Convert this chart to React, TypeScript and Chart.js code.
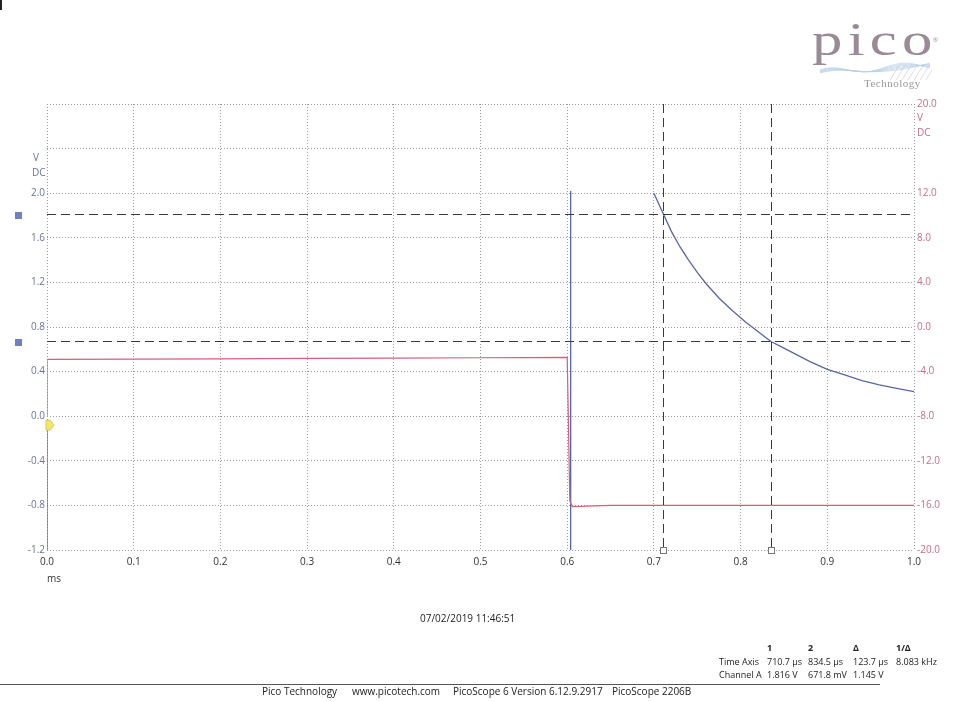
import React, { useEffect, useRef } from "react";
import { Chart, registerables } from "chart.js";

Chart.register(...registerables);

// ---- data read from the scope print ----
const timeRangeMs = [0, 1.0];
const timeStepMs = 0.1;
const chanARange = [-1.2, 2.8];
const chanAStep = 0.4;
const chanBRange = [-20, 20];
const chanBStep = 4;

// Channel A (blue, left axis, V). null = off-scale (over range)
const chanATime = [0, 0, 0.604, 0.604, 0.605, 0.7, 0.71, 0.72, 0.73, 0.74, 0.75, 0.76, 0.775, 0.79, 0.805, 0.82, 0.835, 0.85, 0.865, 0.88, 0.9, 0.92, 0.94, 0.96, 0.98, 1.0];
const chanAVolts = [-0.04, -1.3, -1.3, 2.02, null, 2.0, 1.83, 1.66, 1.52, 1.4, 1.29, 1.19, 1.06, 0.95, 0.85, 0.76, 0.67, 0.61, 0.55, 0.49, 0.42, 0.37, 0.32, 0.28, 0.25, 0.22];

// Channel B (red, right axis, V)
const chanBTime = [0, 0, 0.1, 0.2, 0.3, 0.4, 0.5, 0.6, 0.601, 0.603, 0.606, 0.65, 0.7, 0.8, 0.9, 1.0];
const chanBVolts = [-8.0, -2.9, -2.88, -2.85, -2.82, -2.8, -2.76, -2.72, -6.8, -15.6, -16.1, -16.0, -16.0, -16.0, -16.0, -16.0];

// Cursors
const cursorTimes = [0.7107, 0.8345];
const cursorLevels = [1.816, 0.6718];
const triggerLevel = -0.08;

// Measurement table
const tableHeader = ["", "1", "2", "Δ", "1/Δ"];
const tableTimeRow = ["Time Axis", "710.7 µs", "834.5 µs", "123.7 µs", "8.083 kHz"];
const tableChanRow = ["Channel A", "1.816 V", "671.8 mV", "1.145 V", ""];
const tableCols = [719, 767, 808, 853, 896];

const footerItems = ["Pico Technology", "www.picotech.com", "PicoScope 6 Version 6.12.9.2917", "PicoScope 2206B"];
const footerX = [262, 352, 453, 612];

const FONT = '"Open Sans", "Noto Sans", sans-serif';
const BLUE = "#5866a8";
const RED = "#d4607a";
const LEFT_LABEL = "#6c7598";
const RIGHT_LABEL = "#c2708a";

const fmt1 = (v: number) => {
  const n = Math.abs(v) < 1e-9 ? 0 : v;
  return n.toFixed(1);
};

const overlayPlugin = {
  id: "scopeOverlay",
  afterDatasetsDraw(chart: any) {
    const { ctx, chartArea: a, scales } = chart;
    const xs = scales.x;
    const ys = scales.yA;
    ctx.save();
    ctx.strokeStyle = "#3a3a3a";
    ctx.lineWidth = 1;
    ctx.setLineDash([9, 5]);
    cursorLevels.forEach((v) => {
      const py = Math.round(ys.getPixelForValue(v)) + 0.5;
      ctx.beginPath();
      ctx.moveTo(a.left, py);
      ctx.lineTo(a.right, py);
      ctx.stroke();
    });
    cursorTimes.forEach((t) => {
      const px = Math.round(xs.getPixelForValue(t)) + 0.5;
      ctx.beginPath();
      ctx.moveTo(px, a.top);
      ctx.lineTo(px, a.bottom);
      ctx.stroke();
    });
    ctx.setLineDash([]);
    // cursor handles at the bottom
    cursorTimes.forEach((t) => {
      const px = Math.round(xs.getPixelForValue(t));
      const by = Math.round(a.bottom);
      ctx.fillStyle = "#ffffff";
      ctx.fillRect(px - 3, by - 3, 7, 7);
      ctx.strokeStyle = "#777777";
      ctx.strokeRect(px - 3 + 0.5, by - 3 + 0.5, 6, 6);
    });
    // blue level handles on the left
    cursorLevels.forEach((v) => {
      const py = Math.round(ys.getPixelForValue(v));
      ctx.fillStyle = "#6d80c4";
      ctx.fillRect(15, py - 2, 7, 7);
    });
    // trigger marker
    const ty = ys.getPixelForValue(triggerLevel);
    const tx = a.left;
    ctx.beginPath();
    ctx.moveTo(tx - 1, ty - 5);
    ctx.lineTo(tx + 3, ty - 5);
    ctx.lineTo(tx + 7, ty);
    ctx.lineTo(tx + 3, ty + 5);
    ctx.lineTo(tx - 1, ty + 5);
    ctx.closePath();
    ctx.fillStyle = "#f3e46c";
    ctx.fill();
    ctx.strokeStyle = "#d8c850";
    ctx.stroke();
    ctx.restore();
  },
};

export default function App() {
  const canvasRef = useRef<HTMLCanvasElement | null>(null);

  useEffect(() => {
    const canvas = canvasRef.current;
    if (!canvas) return;
    const chart = new Chart(canvas, {
      type: "line",
      data: {
        datasets: [
          {
            label: "Channel B",
            data: chanBTime.map((t, i) => ({ x: t, y: chanBVolts[i] })),
            yAxisID: "yB",
            borderColor: RED,
            borderWidth: 1.2,
            pointRadius: 0,
            tension: 0,
            spanGaps: false,
          },
          {
            label: "Channel A",
            data: chanATime.map((t, i) => ({ x: t, y: chanAVolts[i] })),
            yAxisID: "yA",
            borderColor: BLUE,
            borderWidth: 1.3,
            pointRadius: 0,
            tension: 0,
            spanGaps: false,
          },
        ],
      },
      options: {
        animation: false,
        responsive: false,
        devicePixelRatio: 1,
        layout: { padding: { left: 0, right: 0, top: 104, bottom: 0 } },
        plugins: { legend: { display: false }, tooltip: { enabled: false } },
        scales: {
          x: {
            type: "linear",
            min: timeRangeMs[0],
            max: timeRangeMs[1],
            ticks: {
              stepSize: timeStepMs,
              color: "#333333",
              font: { family: FONT, size: 10 },
              padding: 6,
              maxRotation: 0,
              callback: (v: any) => fmt1(Number(v)),
            },
            grid: { color: "#9a9a9a", drawTicks: false, lineWidth: 1 },
            border: { display: false, dash: [1, 2] },
            afterFit: (s: any) => {
              s.height = 152;
            },
          },
          yA: {
            type: "linear",
            position: "left",
            min: chanARange[0],
            max: chanARange[1],
            ticks: {
              stepSize: chanAStep,
              color: LEFT_LABEL,
              font: { family: FONT, size: 10 },
              padding: 2,
              callback: (v: any) => (Number(v) > 2.05 ? "" : fmt1(Number(v))),
            },
            grid: { color: "#9a9a9a", drawTicks: false, lineWidth: 1 },
            border: { display: false, dash: [1, 2] },
            afterFit: (s: any) => {
              s.width = 47;
            },
          },
          yB: {
            type: "linear",
            position: "right",
            min: chanBRange[0],
            max: chanBRange[1],
            ticks: {
              stepSize: chanBStep,
              color: RIGHT_LABEL,
              font: { family: FONT, size: 10 },
              padding: 3,
              callback: (v: any) => (Math.abs(Number(v) - 16) < 0.01 ? "" : fmt1(Number(v))),
            },
            grid: { display: false, drawTicks: false },
            border: { display: false },
            afterFit: (s: any) => {
              s.width = 46;
            },
          },
        },
      },
      plugins: [overlayPlugin],
    });
    return () => chart.destroy();
  }, []);

  const txt = (extra: React.CSSProperties): React.CSSProperties => ({
    position: "absolute",
    fontFamily: FONT,
    fontSize: 10,
    lineHeight: "12px",
    whiteSpace: "nowrap",
    ...extra,
  });

  return (
    <div style={{ position: "fixed", left: 0, top: 0, width: 960, height: 702, background: "#ffffff", overflow: "hidden" }}>
      <canvas ref={canvasRef} width={960} height={702} style={{ position: "absolute", left: 0, top: 0, width: 960, height: 702 }} />
      {/* scanner mark */}
      <div style={{ position: "absolute", left: 0, top: 0, width: 2, height: 10, background: "#222" }} />
      {/* unit labels */}
      <div style={txt({ left: 33, top: 151, color: LEFT_LABEL })}>V</div>
      <div style={txt({ left: 32, top: 166, color: LEFT_LABEL })}>DC</div>
      <div style={txt({ left: 917, top: 111, color: RIGHT_LABEL })}>V</div>
      <div style={txt({ left: 917, top: 126, color: RIGHT_LABEL })}>DC</div>
      <div style={txt({ left: 47, top: 572, color: "#333" })}>ms</div>
      {/* timestamp */}
      <div style={txt({ left: 420, top: 612, color: "#222" })}>07/02/2019 11:46:51</div>
      {/* measurement table */}
      {tableHeader.map((h, i) => (
        <div key={"h" + i} style={txt({ left: tableCols[i], top: 642, color: "#222", fontWeight: 700, fontSize: 9 })}>{h}</div>
      ))}
      {tableTimeRow.map((h, i) => (
        <div key={"t" + i} style={txt({ left: tableCols[i], top: 656, color: "#222", fontSize: 9 })}>{h}</div>
      ))}
      {tableChanRow.map((h, i) => (
        <div key={"c" + i} style={txt({ left: tableCols[i], top: 669, color: "#222", fontSize: 9 })}>{h}</div>
      ))}
      {/* footer rule and text */}
      <div style={{ position: "absolute", left: 0, top: 684, width: 880, height: 1, background: "#555" }} />
      {footerItems.map((f, i) => (
        <div key={"f" + i} style={txt({ left: footerX[i], top: 685, color: "#222" })}>{f}</div>
      ))}
      {/* pico logo */}
      <div
        style={{
          position: "absolute",
          left: 812,
          top: 14,
          fontFamily: '"Liberation Serif", "DejaVu Serif", serif',
          fontSize: 46,
          color: "#9a8a98",
          transform: "scaleX(1.32)",
          transformOrigin: "left top",
          letterSpacing: 4,
          lineHeight: "52px",
        }}
      >
        pico
      </div>
      <div style={{ position: "absolute", left: 933, top: 36, fontSize: 6, color: "#9a8a98", fontFamily: FONT }}>®</div>
      <svg style={{ position: "absolute", left: 820, top: 60 }} width={112} height={24}>
        {[0, 1, 2, 3, 4, 5].map((k) => (
          <path
            key={k}
            d={`M0 ${10 + k * 0.6} C 20 ${2 + k}, 35 ${18 - k}, 60 ${9 + k * 0.5} S 90 ${3 + k}, 110 ${8 - k}`}
            stroke="#b7d3e6"
            strokeWidth={0.7}
            fill="none"
          />
        ))}
        {[0, 1, 2, 3, 4, 5, 6].map((k) => (
          <line key={"d" + k} x1={70 + k * 6} y1={20} x2={80 + k * 6} y2={4} stroke="#c8c8d0" strokeWidth={0.6} />
        ))}
      </svg>
      <div style={{ position: "absolute", left: 864, top: 77, fontFamily: '"Liberation Serif", serif', fontSize: 11, color: "#9a9a9a", letterSpacing: 0.5 }}>
        Technology
      </div>
    </div>
  );
}
